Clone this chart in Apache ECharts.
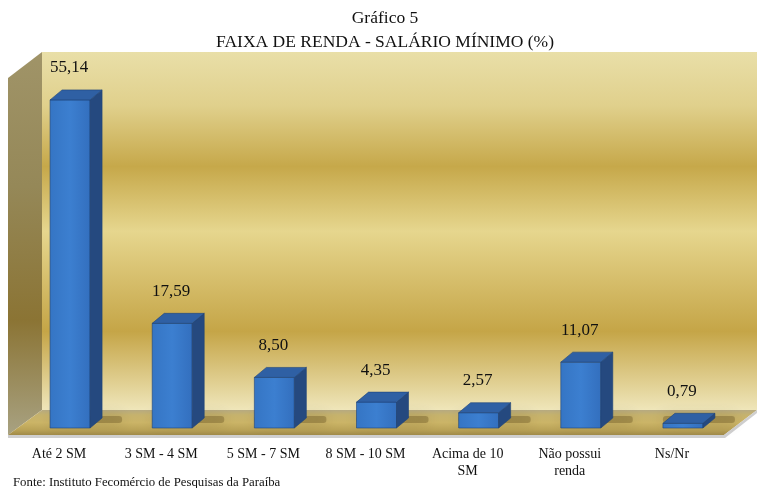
<!DOCTYPE html>
<html>
<head>
<meta charset="utf-8">
<script src="https://cdn.jsdelivr.net/npm/echarts@6/dist/echarts.min.js"></script>
<style>
  html, body { margin: 0; padding: 0; background: #fff; }
  #chart { width: 757px; height: 488px; }
</style>
</head>
<body>
<div id="chart"></div>
<script>
// dados do gráfico
var categorias = ['Até 2 SM', '3 SM - 4 SM', '5 SM - 7 SM', '8 SM - 10 SM', 'Acima de 10\nSM', 'Não possui\nrenda', 'Ns/Nr'];
var valores = [55.14, 17.59, 8.50, 4.35, 2.57, 11.07, 0.79];

var FONTE = '"Liberation Serif", "DejaVu Serif", serif';
var BAR_W = 40;   // largura da face frontal
var DX = 12, DY = -10; // profundidade da barra
var SHIFT = 11;   // barras ficam um pouco atrás da borda do piso

function fmt(v) {
  return v.toFixed(2).replace('.', ',');
}

var myChart = echarts.init(document.getElementById('chart'));

var option = {
  backgroundColor: '#fff',
  animation: false,
  grid: { left: 8, right: 34, top: 71, bottom: 60 },
  xAxis: {
    type: 'category',
    data: categorias,
    axisLine: { show: false },
    axisTick: { show: false },
    splitLine: { show: false },
    axisLabel: {
      interval: 0,
      margin: 18,
      fontFamily: FONTE,
      fontSize: 14,
      lineHeight: 17,
      color: '#111'
    }
  },
  yAxis: {
    type: 'value',
    min: 0,
    max: 60,
    show: false
  },
  graphic: [
    // título
    {
      type: 'text', z: 10, silent: true,
      style: {
        text: 'Gráfico 5\nFAIXA DE RENDA - SALÁRIO MÍNIMO (%)',
        x: 385, y: 6,
        align: 'center',
        verticalAlign: 'top',
        font: '17.5px ' + FONTE,
        lineHeight: 24,
        fill: '#111'
      }
    },
    // parede do fundo
    {
      type: 'rect', z: -10, silent: true,
      shape: { x: 42, y: 52, width: 715, height: 358 },
      style: {
        fill: new echarts.graphic.LinearGradient(0, 0, 0, 1, [
          { offset: 0, color: '#e9dfa8' },
          { offset: 0.15, color: '#e0d08c' },
          { offset: 0.32, color: '#c6a84a' },
          { offset: 0.50, color: '#e6d68e' },
          { offset: 0.78, color: '#c5a547' },
          { offset: 1, color: '#efe6ba' }
        ])
      }
    },
    // parede lateral
    {
      type: 'polygon', z: -9, silent: true,
      shape: { points: [[8, 78], [42, 52], [42, 410], [8, 435]] },
      style: {
        fill: new echarts.graphic.LinearGradient(0, 0, 0, 1, [
          { offset: 0, color: '#a09468' },
          { offset: 0.35, color: '#958858' },
          { offset: 0.7, color: '#8b7434' },
          { offset: 1, color: '#a8a282' }
        ])
      }
    },
    // piso
    {
      type: 'polygon', z: -9, silent: true,
      shape: { points: [[8, 435], [724, 435], [757, 410], [42, 410]] },
      style: {
        fill: new echarts.graphic.LinearGradient(0, 0, 0, 1, [
          { offset: 0, color: '#b6aa80' },
          { offset: 0.2, color: '#c6b26c' },
          { offset: 0.5, color: '#cbb466' },
          { offset: 0.8, color: '#b9a256' },
          { offset: 1, color: '#a08a48' }
        ])
      }
    },
    // espessura do piso
    {
      type: 'polygon', z: -9, silent: true,
      shape: { points: [[8, 435], [724, 435], [757, 410], [757, 413], [725, 438], [8, 438]] },
      style: { fill: '#cfcfcf' }
    },
    // fonte
    {
      type: 'text', z: 10, left: 13, top: 476,
      style: {
        text: 'Fonte: Instituto Fecomércio de Pesquisas da Paraíba',
        font: '12.8px ' + FONTE,
        fill: '#111'
      }
    }
  ],
  series: [{
    type: 'custom',
    data: valores.map(function (v, i) { return [i, v]; }),
    renderItem: function (params, api) {
      var p = api.coord([api.value(0), api.value(1)]);
      var b = api.coord([api.value(0), 0]);
      var cx = p[0] + SHIFT;
      var l = cx - BAR_W / 2, r = cx + BAR_W / 2;
      var top = p[1], bot = b[1];
      var edge = '#1f4378';
      return {
        type: 'group',
        children: [
          {
            // sombra no piso
            type: 'rect',
            shape: { x: l, y: bot - 12, width: BAR_W + 32, height: 7, r: 3 },
            style: {
              fill: 'rgba(80,60,15,0.3)',
              shadowBlur: 14,
              shadowColor: 'rgba(70,50,10,0.75)'
            }
          },
          {
            type: 'rect',
            shape: { x: l, y: top, width: BAR_W, height: bot - top },
            style: {
              fill: new echarts.graphic.LinearGradient(0, 0, 1, 0, [
                { offset: 0, color: '#3575c4' },
                { offset: 0.5, color: '#3c7fd0' },
                { offset: 1, color: '#336fbe' }
              ]),
              stroke: edge, lineWidth: 0.6
            }
          },
          {
            type: 'polygon',
            shape: { points: [[r, top], [r + DX, top + DY], [r + DX, bot + DY], [r, bot]] },
            style: { fill: '#25497f', stroke: edge, lineWidth: 0.6 }
          },
          {
            type: 'polygon',
            shape: { points: [[l, top], [l + DX, top + DY], [r + DX, top + DY], [r, top]] },
            style: { fill: '#2f60a4', stroke: edge, lineWidth: 0.6 }
          },
          {
            type: 'text',
            style: {
              text: fmt(api.value(1)),
              x: cx - 1,
              y: top - 32,
              align: 'center',
              verticalAlign: 'middle',
              font: '17px ' + FONTE,
              fill: '#111'
            }
          }
        ]
      };
    }
  }]
};

myChart.setOption(option);
window.addEventListener('resize', function () {
  myChart.resize();
});
</script>
</body>
</html>
